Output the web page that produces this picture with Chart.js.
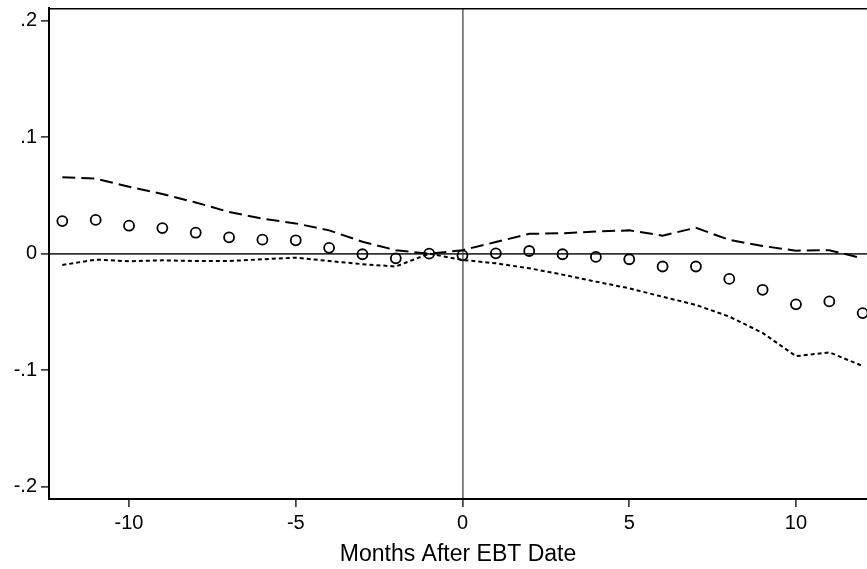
<!DOCTYPE html>
<html><head><meta charset="utf-8">
<script src="https://cdn.jsdelivr.net/npm/chart.js@4"></script>
<style>html,body{margin:0;padding:0;background:#fff;overflow:hidden}canvas{display:block}</style>
</head><body><canvas id="c" width="867" height="569" style="width:867px;height:569px"></canvas>
<script>
const months = [-12,-11,-10,-9,-8,-7,-6,-5,-4,-3,-2,-1,0,1,2,3,4,5,6,7,8,9,10,11,12];
const coef = [0.028,0.029,0.024,0.022,0.018,0.014,0.012,0.0115,0.005,-0.0005,-0.004,0,-0.0014,0.0003,0.0023,-0.0005,-0.0028,-0.0048,-0.011,-0.011,-0.0217,-0.031,-0.0435,-0.041,-0.051];
const upper = [0.0656,0.0644,0.0575,0.0512,0.044,0.0358,0.030,0.026,0.020,0.0103,0.003,0,0.003,0.010,0.017,0.0175,0.019,0.020,0.0155,0.0223,0.0118,0.0066,0.0026,0.003,-0.004];
const lower = [-0.0097,-0.0051,-0.0065,-0.0057,-0.0063,-0.0063,-0.0048,-0.0034,-0.0063,-0.009,-0.011,0,-0.0054,-0.0083,-0.0125,-0.018,-0.024,-0.0297,-0.037,-0.044,-0.054,-0.068,-0.088,-0.0847,-0.0964];
const xTicks = [-10,-5,0,5,10];
const yTicks = [-0.2,-0.1,0,0.1,0.2];
const yTickLabels = ['-.2','-.1','0','.1','.2'];
const xTitle = 'Months After EBT Date';

const pts = arr => months.map((m,i)=>({x:m,y:arr[i]}));
const FONT = '"Liberation Sans", Arial, Helvetica, sans-serif';

function noPad(s){ s.paddingLeft=0; s.paddingRight=0; s.paddingTop=0; s.paddingBottom=0; }

const topFrame = {
  id:'topFrame',
  afterDraw(chart){
    const {ctx, chartArea:a} = chart;
    ctx.save();
    ctx.strokeStyle='#000'; ctx.lineWidth=1.5;
    ctx.beginPath(); ctx.moveTo(a.left, a.top+0.75); ctx.lineTo(a.right, a.top+0.75); ctx.stroke();
    ctx.restore();
  }
};

new Chart(document.getElementById('c'), {
  type:'line',
  data:{
    datasets:[
      {label:'coef', data:pts(coef), showLine:false, pointRadius:5, pointBorderWidth:1.8,
       pointBorderColor:'#000', pointBackgroundColor:'rgba(255,255,255,0)', order:0},
      {label:'upper', data:pts(upper), borderColor:'#000', borderWidth:2, borderDash:[13,6],
       pointRadius:0, fill:false, tension:0, order:1},
      {label:'lower', data:pts(lower), borderColor:'#000', borderWidth:2, borderDash:[4,3],
       pointRadius:0, fill:false, tension:0, order:2}
    ]
  },
  options:{
    responsive:false, maintainAspectRatio:false, animation:false, devicePixelRatio:1,
    layout:{autoPadding:false, padding:{top:8,right:0,bottom:0,left:0}},
    plugins:{legend:{display:false}, tooltip:{enabled:false}},
    scales:{
      x:{type:'linear', min:-12.40, max:12.13,
        afterBuildTicks(s){ s.ticks = xTicks.map(v=>({value:v})); },
        afterFit(s){ s.height = 70; noPad(s); },
        ticks:{color:'#000', font:{family:FONT,size:20}, padding:4, maxRotation:0,
          callback:v=>String(v)},
        grid:{drawOnChartArea:true, drawTicks:true, tickLength:8, tickColor:'#000', tickWidth:1.3,
          color:c=> (c.tick && c.tick.value===0) ? '#7a7a7a' : 'rgba(0,0,0,0)', lineWidth:1.8},
        border:{display:true, color:'#000', width:2},
        title:{display:true, text:xTitle, color:'#000', font:{family:FONT,size:23}, padding:{top:0,bottom:1}}
      },
      y:{type:'linear', min:-0.2106, max:0.2109,
        afterBuildTicks(s){ s.ticks = yTicks.map(v=>({value:v})); },
        afterFit(s){ s.width = 49; noPad(s); },
        ticks:{color:'#000', font:{family:FONT,size:20}, padding:4,
          callback:(v)=>{ const i = yTicks.findIndex(t=>Math.abs(t-v)<1e-9); return i>=0 ? yTickLabels[i] : ''; }},
        grid:{drawOnChartArea:true, drawTicks:true, tickLength:8, tickColor:'#000', tickWidth:1.3,
          color:c=> (c.tick && c.tick.value===0) ? '#333333' : 'rgba(0,0,0,0)', lineWidth:1.8},
        border:{display:true, color:'#000', width:2}
      }
    }
  },
  plugins:[topFrame]
});
</script></body></html>
